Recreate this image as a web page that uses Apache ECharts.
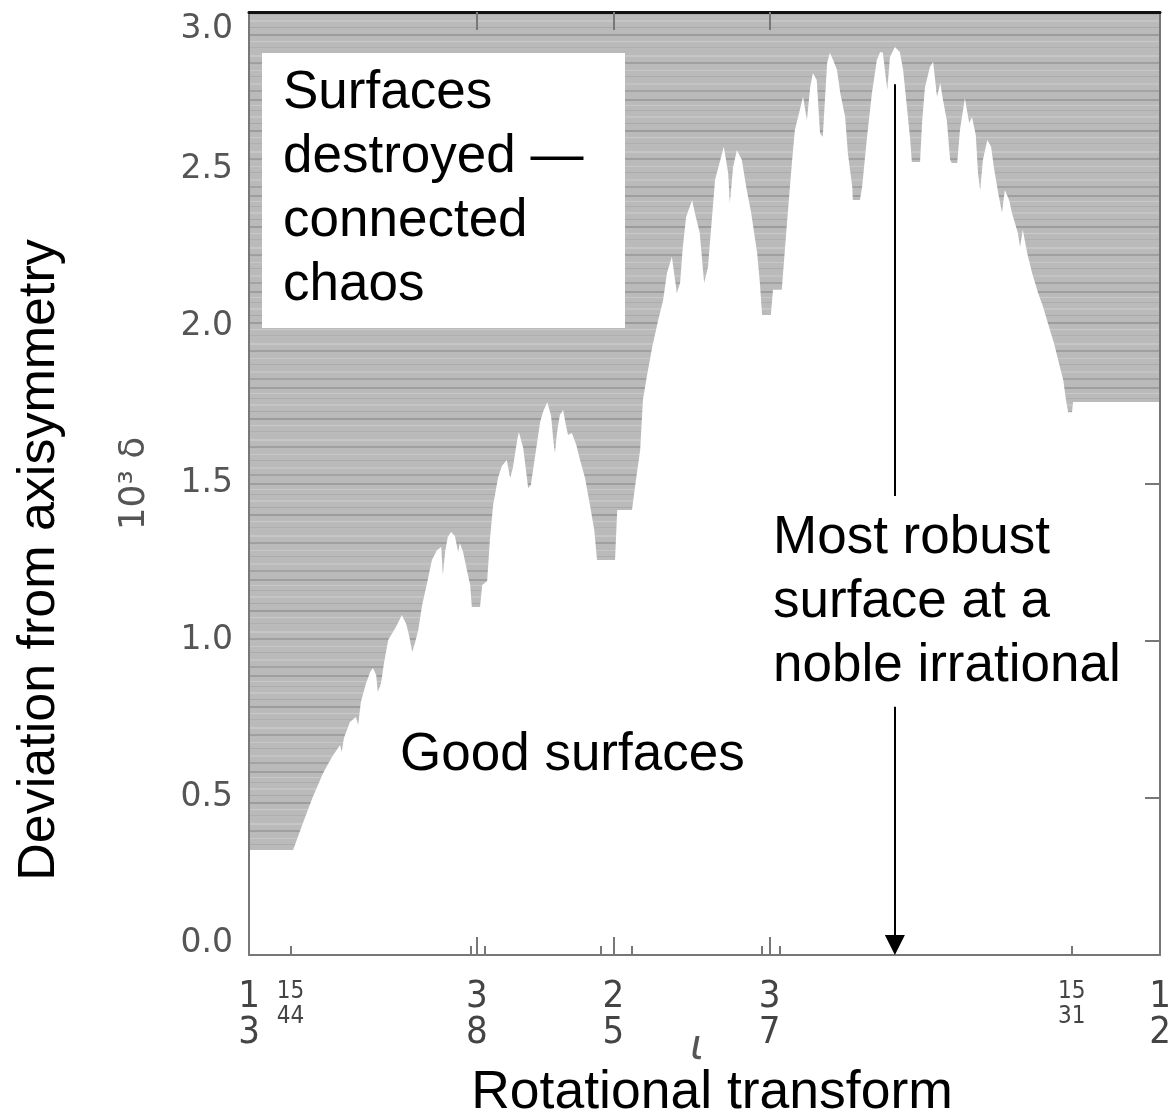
<!DOCTYPE html>
<html>
<head>
<meta charset="utf-8">
<script src="https://cdn.jsdelivr.net/npm/echarts@6/dist/echarts.min.js"></script>
<style>
html,body{margin:0;padding:0;background:#fff;}
#c{width:1169px;height:1118px;}
</style>
</head>
<body>
<div id="c"></div>
<script>
// ---- data ----
// boundary between good surfaces (below) and connected chaos (above)
const iota = [
0.3333,0.3414,0.3432,0.3450,0.3469,0.3485,0.3500,0.3503,0.3507,0.3518,
0.3529,0.3533,0.3538,0.3547,0.3555,0.3560,0.3566,0.3569,0.3575,0.3580,
0.3588,0.3597,0.3604,0.3613,0.3621,0.3626,0.3632,0.3637,0.3643,0.3650,
0.3659,0.3668,0.3677,0.3685,0.3688,0.3692,0.3697,0.3703,0.3710,0.3716,
0.3719,0.3725,0.3732,0.3738,0.3741,0.3756,0.3760,0.3769,0.3774,0.3780,
0.3789,0.3796,0.3805,0.3811,0.3816,0.3824,0.3827,0.3835,0.3840,0.3844,
0.3849,0.3857,0.3866,0.3871,0.3879,0.3886,0.3890,0.3893,0.3897,0.3902,
0.3908,0.3913,0.3917,0.3924,0.3932,0.3939,0.3948,0.3957,0.3965,0.3970,
0.4003,0.4007,0.4034,0.4040,0.4049,0.4054,0.4061,0.4071,0.4082,0.4091,
0.4098,0.4107,0.4116,0.4122,0.4127,0.4133,0.4144,0.4149,0.4158,0.4166,
0.4173,0.4180,0.4186,0.4197,0.4202,0.4210,0.4213,0.4219,0.4226,0.4235,
0.4243,0.4252,0.4263,0.4268,0.4272,0.4288,0.4292,0.4308,0.4318,0.4327,
0.4332,0.4341,0.4347,0.4354,0.4360,0.4365,0.4372,0.4378,0.4383,0.4391,
0.4396,0.4402,0.4409,0.4415,0.4424,0.4429,0.4437,0.4438,0.4451,0.4455,
0.4464,0.4473,0.4482,0.4488,0.4493,0.4501,0.4506,0.4515,0.4524,0.4530,
0.4537,0.4543,0.4546,0.4561,0.4565,0.4570,0.4579,0.4585,0.4592,0.4598,
0.4603,0.4610,0.4616,0.4619,0.4629,0.4634,0.4643,0.4651,0.4656,0.4663,
0.4667,0.4671,0.4676,0.4684,0.4691,0.4696,0.4704,0.4711,0.4716,0.4724,
0.4729,0.4740,0.4744,0.4749,0.4757,0.4766,0.4777,0.4786,0.4797,0.4806,
0.4815,0.4823,0.4828,0.4832,0.4839,0.4841,0.5000
];
const delta = [
0.334,0.334,0.420,0.503,0.579,0.630,0.668,0.646,0.690,0.741,
0.757,0.732,0.805,0.862,0.900,0.913,0.891,0.837,0.865,0.926,
1.002,1.028,1.050,1.082,1.053,1.018,0.964,0.993,1.034,1.113,
1.183,1.257,1.288,1.298,1.209,1.282,1.330,1.346,1.333,1.282,
1.311,1.282,1.225,1.177,1.107,1.107,1.177,1.190,1.320,1.432,
1.518,1.556,1.575,1.518,1.549,1.638,1.664,1.613,1.543,1.486,
1.495,1.591,1.696,1.727,1.759,1.715,1.638,1.597,1.664,1.718,
1.734,1.686,1.654,1.661,1.623,1.575,1.518,1.432,1.352,1.257,
1.257,1.416,1.416,1.495,1.607,1.766,1.839,1.934,2.020,2.084,
2.170,2.221,2.106,2.138,2.252,2.348,2.402,2.361,2.297,2.138,
2.189,2.338,2.466,2.539,2.571,2.488,2.392,2.507,2.561,2.529,
2.443,2.361,2.233,2.138,2.036,2.036,2.116,2.116,2.338,2.529,
2.625,2.688,2.730,2.656,2.761,2.806,2.784,2.615,2.602,2.838,
2.870,2.847,2.816,2.742,2.666,2.551,2.443,2.402,2.402,2.443,
2.602,2.742,2.847,2.873,2.870,2.752,2.857,2.889,2.873,2.816,
2.698,2.593,2.523,2.523,2.656,2.761,2.825,2.841,2.730,2.774,
2.720,2.656,2.529,2.520,2.520,2.625,2.726,2.647,2.666,2.609,
2.488,2.434,2.529,2.593,2.571,2.507,2.424,2.361,2.434,2.402,
2.361,2.297,2.252,2.307,2.233,2.170,2.106,2.062,1.998,1.947,
1.883,1.829,1.766,1.727,1.727,1.759,1.759
];
// x tick labels (fractions)
const fracNum   = [1, 15, 3, 2, 3, 15, 1];
const fracDen   = [3, 44, 8, 5, 7, 31, 2];
const fracSmall = [false, true, false, false, false, true, false];
// tick positions on the rotational-transform axis
const longTicks  = [3/8, 2/5, 3/7];
const shortTicks = [15/44, 0.3739, 0.3765, 0.3976, 0.4034, 0.4272, 0.4305, 15/31];
const rightTicks = [0.5, 1.0, 1.5];
// arrow to the most robust (noble irrational) surface
const nobleIota  = 0.4515;
const arrowUpper = [2.77, 1.46];
const arrowLower = [0.79, 0.032];

// ---- styling helpers ----
function stripePattern() {
  const c = document.createElement('canvas');
  c.width = 8; c.height = 96;
  const g = c.getContext('2d');
  g.fillStyle = '#bababa'; g.fillRect(0, 0, 8, 96);
  const rows = [[3,2,'#9e9e9e'],[9,1,'#c9c9c9'],[14,1,'#aeaeae'],[20,2,'#c5c5c5'],[27,1,'#a9a9a9'],
                [34,2,'#9c9c9c'],[41,1,'#cacaca'],[47,1,'#b0b0b0'],[55,2,'#c6c6c6'],[62,2,'#a0a0a0'],
                [70,1,'#c8c8c8'],[76,1,'#acacac'],[83,2,'#c3c3c3'],[90,2,'#a3a3a3']];
  rows.forEach(r => { g.fillStyle = r[2]; g.fillRect(0, r[0], 8, r[1]); });
  return c;
}
const narrow = '"Liberation Sans Narrow", "DejaVu Sans Condensed", "Liberation Sans", sans-serif';
const sans = '"Liberation Sans", Arial, Helvetica, sans-serif';

function fracLabel(v) {
  for (let i = 0; i < fracNum.length; i++) {
    if (Math.abs(v - fracNum[i] / fracDen[i]) < 1e-6) {
      const t = fracSmall[i] ? 's' : 'b';
      return '{' + t + '|' + fracNum[i] + '}\n{' + t + '|' + fracDen[i] + '}';
    }
  }
  return '';
}
function yLabel(v) {
  const s = v.toFixed(1);
  if (Math.abs(v) < 1e-9) return '{lo|' + s + '}';
  if (Math.abs(v - 3) < 1e-9) return '{hi|' + s + '}';
  return '{n|' + s + '}';
}
const yFont = {fontFamily: '"DejaVu Sans", sans-serif', fontSize: 33, color: '#555'};

const chart = echarts.init(document.getElementById('c'), null, {renderer: 'canvas'});
chart.setOption({
  animation: false,
  backgroundColor: '#fff',
  grid: {left: 249, right: 9, top: 12, bottom: 163, containLabel: false, outerBoundsMode: 'none'},
  xAxis: [
    {
      type: 'value', min: 1/3, max: 1/2, position: 'bottom', z: 3,
      axisLine: {show: true, lineStyle: {color: '#777', width: 2}},
      axisTick: {show: true, inside: true, length: 18, customValues: longTicks, lineStyle: {color: '#777', width: 2}},
      axisLabel: {
        show: true, customValues: fracNum.map((n, i) => n / fracDen[i]), margin: 24,
        formatter: fracLabel,
        rich: {
          b: {fontFamily: narrow, fontSize: 38, lineHeight: 36, color: '#444'},
          s: {fontFamily: narrow, fontSize: 24, lineHeight: 25, color: '#444'}
        }
      },
      splitLine: {show: false},
      name: 'ι', nameLocation: 'middle', nameGap: 72, nameMoveOverlap: false,
      nameTextStyle: {fontFamily: '"DejaVu Sans", sans-serif', fontStyle: 'italic', fontSize: 42, color: '#555', padding: [0, 15, 0, 0]}
    },
    {
      type: 'value', min: 1/3, max: 1/2, position: 'bottom', z: 3,
      axisLine: {show: false},
      axisTick: {show: true, inside: true, length: 9, customValues: shortTicks, lineStyle: {color: '#777', width: 2}},
      axisLabel: {show: false},
      splitLine: {show: false},
      name: 'Rotational transform', nameLocation: 'middle', nameGap: 111, nameMoveOverlap: false,
      nameTextStyle: {fontFamily: sans, fontSize: 53.5, color: '#000', padding: [0, 0, 0, 15]}
    },
    {
      type: 'value', min: 1/3, max: 1/2, position: 'top', z: 3,
      axisLine: {show: true, lineStyle: {color: '#111', width: 3}},
      axisTick: {show: true, inside: true, length: 18, customValues: longTicks, lineStyle: {color: '#777', width: 2}},
      axisLabel: {show: false},
      splitLine: {show: false}
    }
  ],
  yAxis: [
    {
      type: 'value', min: 0, max: 3, interval: 0.5, position: 'left', z: 3,
      axisLine: {show: true, lineStyle: {color: '#777', width: 2}},
      axisTick: {show: false},
      splitLine: {show: false},
      axisLabel: {
        show: true, margin: 16, formatter: yLabel,
        rich: {
          n: yFont,
          lo: Object.assign({padding: [0, 0, 23, 0]}, yFont),
          hi: Object.assign({padding: [34, 0, 0, 0]}, yFont)
        }
      },
      name: '10³ δ', nameLocation: 'middle', nameGap: 96, nameMoveOverlap: false,
      nameTextStyle: {fontFamily: '"DejaVu Sans", sans-serif', fontSize: 36, color: '#555'}
    },
    {
      type: 'value', min: 0, max: 3, interval: 0.5, position: 'right', z: 3,
      axisLine: {show: true, lineStyle: {color: '#777', width: 2}},
      axisTick: {show: true, inside: true, length: 15, customValues: rightTicks, lineStyle: {color: '#777', width: 2}},
      axisLabel: {show: false},
      splitLine: {show: false}
    }
  ],
  series: [
    {
      type: 'line',
      xAxisIndex: 0, yAxisIndex: 0,
      data: iota.map((x, i) => [x, delta[i]]),
      symbol: 'none', showSymbol: false, silent: true, z: 2,
      lineStyle: {width: 0, opacity: 0},
      areaStyle: {origin: 'end', opacity: 1, color: {image: stripePattern(), repeat: 'repeat'}},
      markLine: {
        silent: true, animation: false,
        symbol: ['none', 'none'],
        label: {show: false},
        lineStyle: {color: '#000', width: 2, type: 'solid', opacity: 1},
        data: [
          [{coord: [nobleIota, arrowUpper[0]]}, {coord: [nobleIota, arrowUpper[1]]}],
          [{coord: [nobleIota, arrowLower[0]], symbol: 'none'},
           {coord: [nobleIota, arrowLower[1]], symbol: 'triangle', symbolSize: [20, 20]}]
        ]
      }
    }
  ],
  graphic: [
    {type: 'rect', left: 262, top: 53, z: 100, shape: {width: 363, height: 275}, style: {fill: '#fff'}},
    {type: 'text', left: 283, top: 61, z: 101,
     style: {text: 'Surfaces\ndestroyed —\nconnected\nchaos', fontFamily: sans, fontSize: 53, lineHeight: 64, fill: '#000'}},
    {type: 'text', left: 400, top: 723, z: 101,
     style: {text: 'Good surfaces', fontFamily: sans, fontSize: 53, lineHeight: 64, fill: '#000'}},
    {type: 'text', left: 773, top: 506, z: 101,
     style: {text: 'Most robust\nsurface at a\nnoble irrational', fontFamily: sans, fontSize: 53, lineHeight: 64, fill: '#000'}},
    {type: 'text', x: 40, y: 560, rotation: Math.PI / 2, z: 101,
     style: {text: 'Deviation from axisymmetry', fontFamily: sans, fontSize: 52, fill: '#000', align: 'center', verticalAlign: 'middle'}}
  ]
});
</script>
</body>
</html>
